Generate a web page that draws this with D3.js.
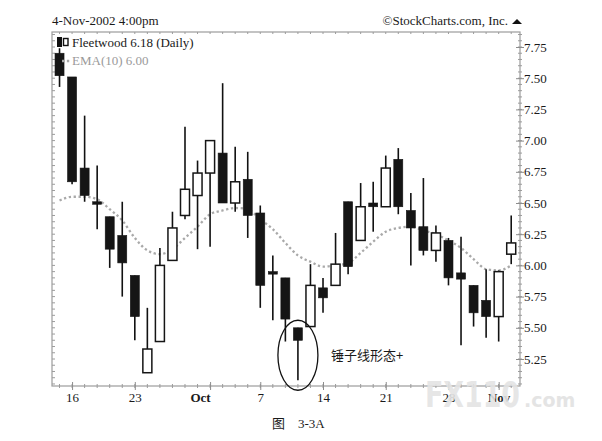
<!DOCTYPE html>
<html lang="zh">
<head>
<meta charset="UTF-8" />
<title>Fleetwood (Daily)</title>
<script src="https://d3js.org/d3.v7.min.js"></script>
<style>
  body { margin: 0; background: #fff; }
  svg text { font-family: "Liberation Serif", "DejaVu Serif", serif; fill: #1a1a1a; }
  .frame { fill: none; stroke: #9c9c9c; stroke-width: 1.2; }
  .axis path { stroke: #9c9c9c; stroke-width: 1.2; }
  .axis line { stroke: #8c8c8c; }
  .axis text { font-size: 13px; }
</style>
</head>
<body>
<svg id="chart" width="602" height="441"></svg>
<script>
// trading days, 13-Sep-2002 .. 4-Nov-2002
const dates = [
  "2002-09-13", "2002-09-16", "2002-09-17", "2002-09-18", "2002-09-19", "2002-09-20",
  "2002-09-23", "2002-09-24", "2002-09-25", "2002-09-26", "2002-09-27",
  "2002-09-30", "2002-10-01", "2002-10-02", "2002-10-03", "2002-10-04",
  "2002-10-07", "2002-10-08", "2002-10-09", "2002-10-10", "2002-10-11",
  "2002-10-14", "2002-10-15", "2002-10-16", "2002-10-17", "2002-10-18",
  "2002-10-21", "2002-10-22", "2002-10-23", "2002-10-24", "2002-10-25",
  "2002-10-28", "2002-10-29", "2002-10-30", "2002-10-31", "2002-11-01",
  "2002-11-04"
];
const open  = [7.70, 7.51, 6.78, 6.51, 6.39, 6.24, 5.92, 5.14, 5.39, 6.04, 6.40,
               6.56, 6.74, 6.90, 6.50, 6.69, 6.42, 5.95, 5.90, 5.50, 5.51,
               5.82, 5.84, 6.51, 6.20, 6.50, 6.47, 6.85, 6.44, 6.31, 6.12,
               6.20, 5.94, 5.84, 5.72, 5.59, 6.09];
const high  = [7.74, 7.51, 7.20, 6.80, 6.39, 6.51, 5.92, 5.66, 6.14, 6.43, 7.11,
               6.84, 7.00, 7.46, 6.95, 6.91, 6.48, 6.08, 5.90, 5.50, 6.01,
               5.90, 6.26, 6.51, 6.66, 6.67, 6.88, 6.94, 6.58, 6.70, 6.32,
               6.22, 6.23, 5.84, 5.97, 5.96, 6.40];
const low   = [7.43, 6.65, 6.51, 6.29, 5.98, 5.75, 5.40, 5.14, 5.39, 6.04, 6.37,
               6.13, 6.15, 6.50, 6.43, 6.22, 5.66, 5.56, 5.39, 5.08, 5.51,
               5.62, 5.84, 5.93, 6.20, 6.27, 6.47, 6.41, 6.00, 6.08, 6.03,
               5.84, 5.36, 5.51, 5.42, 5.39, 6.01];
const close = [7.52, 6.67, 6.56, 6.49, 6.13, 6.02, 5.59, 5.33, 6.00, 6.30, 6.61,
               6.74, 7.00, 6.50, 6.67, 6.40, 5.84, 5.94, 5.57, 5.40, 5.84,
               5.74, 6.01, 5.99, 6.47, 6.47, 6.78, 6.47, 6.30, 6.12, 6.26,
               5.90, 5.89, 5.62, 5.59, 5.95, 6.18];
const ema10 = [6.52, 6.55, 6.55, 6.53, 6.45, 6.36, 6.22, 6.12, 6.09, 6.13, 6.22,
               6.31, 6.41, 6.44, 6.46, 6.45, 6.37, 6.29, 6.18, 6.08, 6.03,
               5.99, 6.00, 6.02, 6.10, 6.19, 6.27, 6.30, 6.31, 6.28, 6.25,
               6.20, 6.14, 6.05, 5.97, 5.96, 6.00];

const priceTicks = [5.25, 5.50, 5.75, 6.00, 6.25, 6.50, 6.75, 7.00, 7.25, 7.50, 7.75];
const dayLabelIdx = [1, 6, 12, 16, 21, 26, 31, 35];
const dayLabels = ["16", "23", "Oct", "7", "14", "21", "28", "Nov"];

const svg = d3.select("#chart");
const plot = { left: 52, right: 520, top: 32, bottom: 386 };

const x = d3.scaleLinear().domain([-0.6, 36.7]).range([plot.left, plot.right]);
const y = d3.scaleLinear().domain([5.25, 7.75]).range([359, 47]);
const yMin = y.invert(plot.bottom), yMax = y.invert(plot.top);

// header texts
svg.append("text").attr("x", 52).attr("y", 25).style("font-size", "13px")
  .text("4-Nov-2002 4:00pm");
svg.append("text").attr("x", 508).attr("y", 25).attr("text-anchor", "end")
  .style("font-size", "13px").text("\u00A9StockCharts.com, Inc.");
svg.append("path").attr("d", "M512,24 L522,24 L517,19 Z").attr("fill", "#111");

// frame
svg.append("rect").attr("class", "frame")
  .attr("x", plot.left).attr("y", plot.top)
  .attr("width", plot.right - plot.left).attr("height", plot.bottom - plot.top);

// minor price ticks on both sides
const minor = d3.range(Math.ceil(yMin * 20), Math.floor(yMax * 20) + 1).map(d => d / 20);
svg.append("g").selectAll("line").data(minor).join("line")
  .attr("x1", plot.left).attr("x2", plot.left + 3)
  .attr("y1", d => y(d)).attr("y2", d => y(d))
  .attr("stroke", "#9c9c9c");
svg.append("g").selectAll("line").data(minor).join("line")
  .attr("x1", plot.right - 2).attr("x2", plot.right + 2)
  .attr("y1", d => y(d)).attr("y2", d => y(d))
  .attr("stroke", "#9c9c9c");

// right price axis
const yAxis = svg.append("g").attr("class", "axis")
  .attr("transform", `translate(${plot.right},0)`)
  .call(d3.axisRight(y).tickValues(priceTicks).tickFormat(d3.format(".2f")).tickSize(4));
yAxis.select(".domain").remove();
yAxis.selectAll("line").attr("x1", -4).attr("stroke", "#555");
yAxis.selectAll("text").attr("x", 4);

// day ticks on top and bottom borders
const days = d3.range(dates.length);
svg.append("g").selectAll("line").data(days).join("line")
  .attr("x1", d => x(d)).attr("x2", d => x(d))
  .attr("y1", plot.bottom - 2).attr("y2", plot.bottom + 2).attr("stroke", "#9c9c9c");
svg.append("g").selectAll("line").data(days).join("line")
  .attr("x1", d => x(d)).attr("x2", d => x(d))
  .attr("y1", plot.top).attr("y2", plot.top + 2).attr("stroke", "#9c9c9c");

const xAxis = svg.append("g").attr("class", "axis")
  .attr("transform", `translate(0,${plot.bottom})`)
  .call(d3.axisBottom(x).tickValues(dayLabelIdx)
    .tickFormat((d, i) => dayLabels[i]).tickSize(4));
xAxis.select(".domain").remove();
xAxis.selectAll("line").attr("y1", -4).attr("stroke", "#666");
xAxis.selectAll("text").attr("y", 16).attr("dy", 0)
  .style("font-weight", (d, i) => dayLabels[i] === "Oct" || dayLabels[i] === "Nov" ? "bold" : null)
  .attr("dx", (d, i) => dayLabels[i] === "Oct" ? -10 : 0);

// EMA(10) dotted line
svg.append("path")
  .datum(ema10)
  .attr("fill", "none")
  .attr("stroke", "#a9a9a9")
  .attr("stroke-width", 2.3)
  .attr("stroke-dasharray", "2.3 2.6")
  .attr("d", d3.line().x((d, i) => x(i)).y(d => y(d)).curve(d3.curveMonotoneX));

// candles
const candles = days.map(i => ({ i, o: open[i], h: high[i], l: low[i], c: close[i] }));
const bodyW = 9;
const cg = svg.append("g");
cg.selectAll("line.wick").data(candles).join("line")
  .attr("class", "wick")
  .attr("x1", d => x(d.i)).attr("x2", d => x(d.i))
  .attr("y1", d => y(d.h)).attr("y2", d => y(d.l))
  .attr("stroke", "#111").attr("stroke-width", 1.6);
cg.selectAll("rect.body").data(candles).join("rect")
  .attr("class", "body")
  .attr("x", d => x(d.i) - bodyW / 2)
  .attr("y", d => y(Math.max(d.o, d.c)))
  .attr("width", bodyW)
  .attr("height", d => Math.max(2.5, Math.abs(y(d.o) - y(d.c))))
  .attr("fill", d => d.c > d.o ? "#fff" : "#151515")
  .attr("stroke", "#151515")
  .attr("stroke-width", d => d.c > d.o ? 1.5 : 0.6);

// legend
const lg = svg.append("g");
lg.append("rect").attr("x", 57).attr("y", 37).attr("width", 5).attr("height", 10).attr("fill", "#111");
lg.append("rect").attr("x", 63.5).attr("y", 38.5).attr("width", 4.5).attr("height", 7)
  .attr("fill", "#fff").attr("stroke", "#111").attr("stroke-width", 1.4);
lg.append("text").attr("x", 72).attr("y", 47).style("font-size", "13px")
  .text("Fleetwood 6.18 (Daily)");
lg.append("line").attr("x1", 62).attr("x2", 70).attr("y1", 61).attr("y2", 61)
  .attr("stroke", "#a9a9a9").attr("stroke-width", 2.3).attr("stroke-dasharray", "2.3 2.6");
lg.append("text").attr("x", 72).attr("y", 65).style("font-size", "13px")
  .style("fill", "#9a9a9a").text("EMA(10) 6.00");

// hammer annotation
svg.append("ellipse")
  .attr("cx", x(19)).attr("cy", y(5.28)).attr("rx", 20).attr("ry", 35)
  .attr("fill", "none").attr("stroke", "#111").attr("stroke-width", 1.3);
svg.append("text").attr("x", 331).attr("y", 360)
  .style("font-family", "'Noto Sans CJK SC', sans-serif").style("font-size", "13px")
  .text("锤子线形态+");

// watermark
svg.append("text").attr("x", 425).attr("y", 407)
  .style("font-family", "'DejaVu Sans', sans-serif").style("font-weight", "bold")
  .style("font-size", "36px").style("fill", "#e4e4e4").style("fill-opacity", 0.92)
  .attr("textLength", 95).attr("lengthAdjust", "spacingAndGlyphs")
  .text("FX110");
svg.append("text").attr("x", 524).attr("y", 407)
  .style("font-family", "'DejaVu Sans', sans-serif").style("font-weight", "bold")
  .style("font-size", "19px").style("fill", "#e4e4e4")
  .text(".com");

// caption
svg.append("text").attr("x", 272).attr("y", 428)
  .style("font-family", "'Noto Sans CJK SC', sans-serif").style("font-size", "13px")
  .text("图");
svg.append("text").attr("x", 298).attr("y", 428).style("font-size", "13px").text("3-3A");
</script>
</body>
</html>
